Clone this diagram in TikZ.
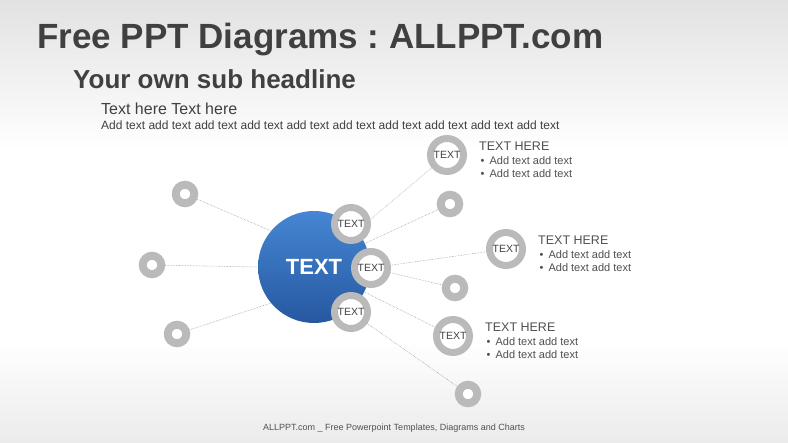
\documentclass[tikz,border=0pt]{standalone}
\usepackage{fontspec}
\setmainfont{Liberation Sans}
\usetikzlibrary{positioning}

\pgfdeclarelayer{bg}
\pgfdeclarelayer{links}
\pgfsetlayers{bg,links,main}

\definecolor{bgtop}{RGB}{226,226,226}
\definecolor{bgbot}{RGB}{235,235,235}
\definecolor{hubtop}{RGB}{70,134,212}
\definecolor{hubbot}{RGB}{38,88,160}
\definecolor{ringgray}{RGB}{186,186,186}
\definecolor{linkgray}{RGB}{150,150,150}
\definecolor{titlegray}{RGB}{64,64,64}
\definecolor{infogray}{RGB}{80,80,80}

\tikzset{
  hub/.style={circle, minimum size=112pt, inner sep=0pt, top color=hubtop, bottom color=hubbot,
    text=white, font=\bfseries\fontsize{22}{22}\selectfont},
  ring/.style={circle, minimum size=33pt, inner sep=0pt, draw=ringgray, line width=7pt,
    fill=white, text=titlegray, font=\fontsize{10.5}{10.5}\selectfont},
  donut/.style={circle, minimum size=18.5pt, inner sep=0pt, draw=ringgray, line width=8pt, fill=white},
  link/.style={draw=linkgray, line width=0.55pt, densely dotted},
  info/.style={align=left, inner sep=0pt, yshift=-5pt, text=infogray, font=\fontsize{11}{13.5}\selectfont},
  head/.style={inner sep=0pt, anchor=base west, text=titlegray},
}

\begin{document}
\frenchspacing
\begin{tikzpicture}[x=1pt,y=1pt,yscale=-1,xscale=1]
\useasboundingbox (0,0) rectangle (788,443);

%Background
\begin{pgfonlayer}{bg}
\fill[top color=bgtop, bottom color=white] (0,0) rectangle (788,150);
\fill[white] (0,150) rectangle (788,340);
\fill[top color=white, bottom color=bgbot] (0,340) rectangle (788,443);
\end{pgfonlayer}

%Headlines
\node[head, font=\bfseries\fontsize{35}{35}\selectfont] (title) at (37,49) {Free PPT Diagrams : ALLPPT.com};
\node[head, font=\bfseries\fontsize{26}{26}\selectfont] (subhead) at (73,89) {Your own sub headline};
\node[head, font=\fontsize{16}{16}\selectfont] (texthere) at (101,115) {Text here Text here};
\node[head, font=\fontsize{12}{12}\selectfont] (addtext) at (101,130) {Add text add text add text add text add text add text add text add text add text add text};

%Hub
\node[hub] (hub) at (314,267) {TEXT};

%Rings on hub
\node[ring] (ringTop) at (351,224) {TEXT};
\node[ring] (ringMid) at (371,268) {TEXT};
\node[ring] (ringLow) at (351,312) {TEXT};

%Satellites with text
\node[ring] (satUp) at (447,155) {TEXT};
\node[ring] (satRight) at (506,249) {TEXT};
\node[ring] (satDown) at (453,336) {TEXT};

%Small dots
\node[donut] (dotNW) at (185,194) {};
\node[donut] (dotW) at (152,265) {};
\node[donut] (dotSW) at (177,334) {};
\node[donut] (dotNE) at (450,204) {};
\node[donut] (dotE) at (455,288) {};
\node[donut] (dotSE) at (468,394) {};

%Links
\begin{pgfonlayer}{links}
\draw[link] (dotNW) -- (hub.140);
\draw[link] (dotW) -- (hub.180);
\draw[link] (dotSW) -- (hub.220);
\draw[link] (hub.center) -- (satUp);
\draw[link] (hub.center) -- (dotNE);
\draw[link] (ringMid) -- (satRight);
\draw[link] (ringMid) -- (dotE);
\draw[link] (hub.center) -- (satDown);
\draw[link] (ringLow) -- (dotSE);
\end{pgfonlayer}

%Info texts
\node[info, right=12pt of satUp] (infoUp) {{\fontsize{12.5}{14}\selectfont TEXT HERE}\\
  \hspace{1.5pt}\textbullet\hspace{5pt}Add text add text\\ \hspace{1.5pt}\textbullet\hspace{5pt}Add text add text};
\node[info, right=12pt of satRight] (infoRight) {{\fontsize{12.5}{14}\selectfont TEXT HERE}\\
  \hspace{1.5pt}\textbullet\hspace{5pt}Add text add text\\ \hspace{1.5pt}\textbullet\hspace{5pt}Add text add text};
\node[info, right=12pt of satDown] (infoDown) {{\fontsize{12.5}{14}\selectfont TEXT HERE}\\
  \hspace{1.5pt}\textbullet\hspace{5pt}Add text add text\\ \hspace{1.5pt}\textbullet\hspace{5pt}Add text add text};

%Footer
\node[inner sep=0pt, anchor=base, text=infogray, font=\fontsize{9}{9}\selectfont] (footer) at (394,431)
  {ALLPPT.com \_ Free Powerpoint Templates, Diagrams and Charts};

\end{tikzpicture}
\end{document}
